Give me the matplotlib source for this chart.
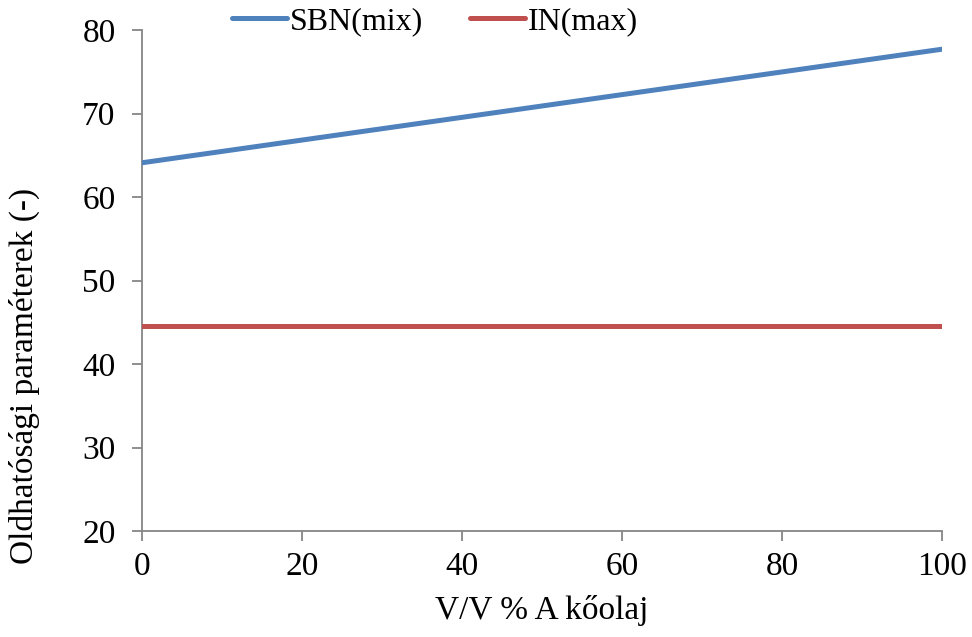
import numpy as np
from matplotlib import pyplot as plt

# adatok
x_sbn = [0, 100]
sbn_mix = [64.1, 77.7]
x_in = [0, 100]
in_max = [44.6, 44.6]

xticks = [0, 20, 40, 60, 80, 100]
yticks = [20, 30, 40, 50, 60, 70, 80]

plt.rcParams['font.family'] = ['Liberation Serif', 'DejaVu Serif']

fig = plt.figure(figsize=(9.72, 6.37), dpi=100)
ax = fig.add_axes([0.1461, 0.1664, 0.9691 - 0.1461, 0.9529 - 0.1664])

ax.plot(x_sbn, sbn_mix, color='#4F81BD', lw=3.6, solid_capstyle='round', label='SBN(mix)')
ax.plot(x_in, in_max, color='#C0504D', lw=3.6, solid_capstyle='round', label='IN(max)')

ax.set_xlim(0, 100)
ax.set_ylim(20, 80)
ax.set_xticks(xticks)
ax.set_yticks(yticks)

for s in ['top', 'right']:
    ax.spines[s].set_visible(False)
for s in ['left', 'bottom']:
    ax.spines[s].set_color('#868686')
    ax.spines[s].set_linewidth(1.3)
ax.spines['left'].set_zorder(0)

ax.tick_params(axis='both', direction='out', length=7, width=1.3, color='#868686',
               labelsize=24)
ax.tick_params(axis='x', pad=8)
ax.tick_params(axis='y', pad=12)
for lab in ax.get_xticklabels() + ax.get_yticklabels():
    lab.set_clip_on(False)

ax.set_xlabel('V/V % A kőolaj', fontsize=24)
ax.set_ylabel('Oldhatósági paraméterek (-)', fontsize=24)
ax.xaxis.set_label_coords(0.5, -0.128)
ax.yaxis.set_label_coords(-0.128, 0.309)

fig.legend(loc='center left', bbox_to_anchor=(232 / 972, 1 - 22 / 637),
           bbox_transform=fig.transFigure, ncol=2, frameon=False,
           fontsize=23, handlelength=1.72, handletextpad=0.1, columnspacing=1.45,
           borderpad=0, borderaxespad=0)

fig.savefig('out.png', dpi=100)
